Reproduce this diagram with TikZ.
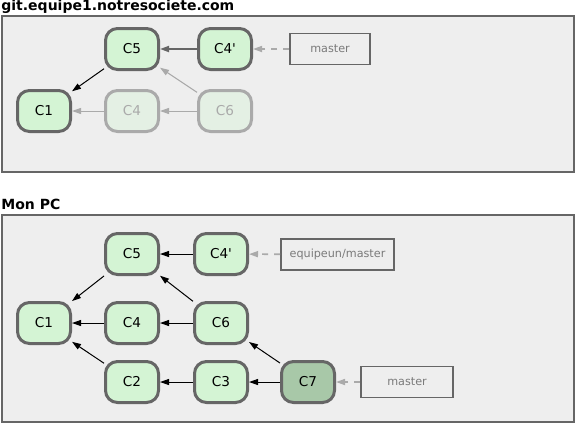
\documentclass[tikz,border=0pt]{standalone}
\usepackage{fontspec}
\setmainfont{DejaVu Sans}
\usetikzlibrary{arrows.meta, positioning}
\definecolor{panelfill}{HTML}{EEEEEE}
\definecolor{panelline}{HTML}{666666}
\definecolor{commitfill}{HTML}{D4F4D4}
\definecolor{headfill}{HTML}{A8C8A8}
\definecolor{fadefill}{HTML}{E4F0E4}
\definecolor{fadeline}{HTML}{AAAAAA}
\definecolor{reftext}{HTML}{7A7A7A}

\begin{document}
\begin{tikzpicture}[
    x=0.5pt, y=-0.5pt,
    panel/.style={draw=panelline, fill=panelfill, line width=1pt},
    title/.style={font=\fontsize{7}{8}\selectfont\bfseries, anchor=west, inner sep=0pt},
    commit/.style={draw=panelline, fill=commitfill, line width=1.5pt, rounded corners=6pt,
                   minimum width=26.5pt, minimum height=20.5pt, inner sep=0pt,
                   font=\fontsize{6.8}{8}\selectfont},
    faded/.style={commit, draw=fadeline, fill=fadefill, text=fadeline},
    branch/.style={draw=panelline, line width=0.9pt, inner sep=0pt, minimum height=15.5pt,
                   text=reftext, font=\fontsize{5.6}{7}\selectfont},
    parent/.style={-{Triangle[length=4.5pt, width=3pt]}, line width=0.5pt},
    fadeparent/.style={parent, draw=fadeline, fill=fadeline},
    refptr/.style={-{Triangle[length=4.5pt, width=3pt]}, draw=fadeline, line width=0.8pt,
                   dash pattern=on 3pt off 3pt}
]
    \useasboundingbox (0,0) rectangle (576,425);

    % --- serveur ---
    \draw[panel] (2,16) rectangle (574,172);
    \node[title] (srv) at (1,7) {git.equipe1.notresociete.com};
    \node[commit] (s1) at (44,111) {C1};
    \node[commit] (s5) at (132,49) {C5};
    \node[commit] (s4p) at (225,49) {C4\textquotesingle};
    \node[faded] (s4) at (132,111) {C4};
    \node[faded] (s6) at (225,111) {C6};
    \node[branch, minimum width=40pt] (smaster) at (330,49) {master};
    \draw[fadeparent] (s6) -- (s5);
    \draw[fadeparent] (s6) -- (s4);
    \draw[fadeparent] (s4) -- (s1);
    \draw[parent, draw=panelline, line width=0.9pt] (s4p) -- (s5);
    \draw[parent] (s5) -- (s1);
    \draw[refptr] (smaster) -- (s4p);

    % --- Mon PC ---
    \draw[panel] (2,215) rectangle (574,422);
    \node[title] (pc) at (1,204) {Mon PC};
    \node[commit] (c1) at (44,323) {C1};
    \node[commit] (c5) at (132,254) {C5};
    \node[commit] (c4p) at (221,254) {C4\textquotesingle};
    \node[commit] (c4) at (132,323) {C4};
    \node[commit] (c6) at (221,323) {C6};
    \node[commit] (c2) at (132,382) {C2};
    \node[commit] (c3) at (221,382) {C3};
    \node[commit, fill=headfill] (c7) at (308,382) {C7};
    \node[branch, minimum width=56.5pt] (origin) at (337.5,254.5) {equipeun/master};
    \node[branch, minimum width=46pt] (master) at (407,382) {master};
    \draw[parent] (c4p) -- (c5);
    \draw[parent] (c5) -- (c1);
    \draw[parent] (c6) -- (c5);
    \draw[parent] (c6) -- (c4);
    \draw[parent] (c4) -- (c1);
    \draw[parent] (c2) -- (c1);
    \draw[parent] (c3) -- (c2);
    \draw[parent] (c7) -- (c3);
    \draw[parent] (c7) -- (c6);
    \draw[refptr] (origin) -- (c4p);
    \draw[refptr] (master) -- (c7);
\end{tikzpicture}
\end{document}
